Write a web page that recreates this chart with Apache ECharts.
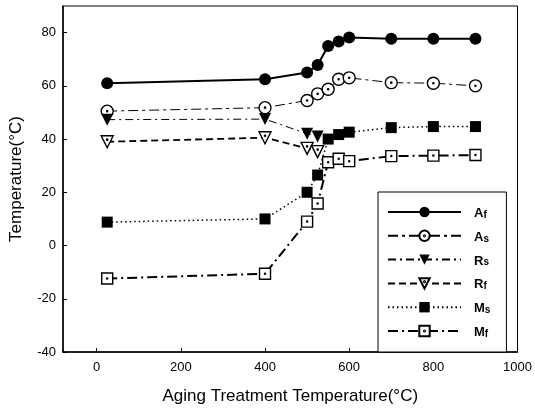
<!DOCTYPE html>
<html>
<head>
<meta charset="utf-8">
<script src="https://cdn.jsdelivr.net/npm/echarts@6/dist/echarts.min.js"></script>
<style>html,body{margin:0;padding:0;background:#fff}#c{width:535px;height:414px}</style>
</head>
<body>
<div id="c"></div>
<script>
// Data
var temps = [25, 400, 500, 525, 550, 575, 600, 700, 800, 900];
var rTemps = [25, 400, 500, 525];
var afVals = [61, 62.5, 65, 67.8, 75, 76.7, 78.2, 77.7, 77.7, 77.7];
var asVals = [50.5, 51.8, 54.5, 57, 58.7, 62.5, 63, 61.2, 61, 60];
var rsVals = [47.3, 47.5, 42, 41];
var rfVals = [39, 40.5, 36.5, 35.3];
var msVals = [8.8, 10, 20, 26.5, 40, 41.7, 42.6, 44.3, 44.7, 44.7];
var mfVals = [-12.4, -10.6, 9, 15.8, 31.3, 32.6, 31.7, 33.6, 33.8, 34];
var xTicks = [0, 200, 400, 600, 800, 1000];
var yTicks = [-40, -20, 0, 20, 40, 60, 80];
var names = ['Af', 'As', 'Rs', 'Rf', 'Ms', 'Mf'];

function pairs(xs, ys) { return xs.map(function (x, i) { return [x, ys[i]]; }); }

var dotCircle = 'path://M0 -10A10 10 0 1 1 0 10A10 10 0 1 1 0 -10ZM0 -1A1 1 0 1 1 0 1A1 1 0 1 1 0 -1Z';
var dotSquare = 'path://M-10 -10L10 -10L10 10L-10 10ZM0 -1A1 1 0 1 1 0 1A1 1 0 1 1 0 -1Z';
var downTri = 'path://M-10 -9L10 -9L0 9Z';
var dotDownTri = 'path://M-10 -9L10 -9L0 9ZM0 -4A1 1 0 1 1 0 -2A1 1 0 1 1 0 -4Z';

var chart = echarts.init(document.getElementById('c'), null, { renderer: 'canvas' });
var font = 'Liberation Sans, Arial, sans-serif';

function mk(name, data, symbol, size, filled, lineType, lineWidth) {
  return {
    name: name, type: 'line', data: data, symbol: symbol, symbolSize: size,
    showSymbol: true,
    lineStyle: { color: '#000', width: lineWidth, type: lineType },
    itemStyle: { color: filled ? '#000' : '#fff', borderColor: '#000', borderWidth: filled ? 0 : 1.4 },
    emphasis: { disabled: true },
    animation: false, z: 3
  };
}

chart.setOption({
  animation: false,
  backgroundColor: '#fff',
  textStyle: { fontFamily: font },
  grid: { left: 62, right: 15, top: 6, bottom: 62, show: true, borderColor: '#000', borderWidth: 1, backgroundColor: 'transparent' },
  xAxis: {
    type: 'value', min: -80, max: 1000,
    name: 'Aging Treatment Temperature(°C)', nameLocation: 'middle', nameGap: 36,
    nameTextStyle: { fontSize: 17, color: '#000', fontFamily: font },
    axisLine: { onZero: false, lineStyle: { color: '#000', width: 1.5 } },
    axisTick: { inside: true, length: 4, customValues: xTicks, lineStyle: { color: '#000' } },
    axisLabel: { customValues: xTicks, fontSize: 13, color: '#000', margin: 9, fontFamily: font,
      formatter: function (v) { return String(v); } },
    splitLine: { show: false }
  },
  yAxis: {
    type: 'value', min: -40, max: 90,
    name: 'Temperature(°C)', nameLocation: 'middle', nameGap: 38,
    nameTextStyle: { fontSize: 17, color: '#000', fontFamily: font },
    axisLine: { onZero: false, lineStyle: { color: '#000', width: 1.5 } },
    axisTick: { inside: true, length: 4, customValues: yTicks, lineStyle: { color: '#000' } },
    axisLabel: { customValues: yTicks, fontSize: 13, color: '#000', margin: 7, fontFamily: font,
      formatter: function (v) { return String(v); } },
    splitLine: { show: false }
  },
  legend: {
    data: names, orient: 'vertical', left: 378, top: 192,
    backgroundColor: '#fff', borderColor: '#000', borderWidth: 1,
    padding: [13, 16, 13, 9], itemWidth: 73, itemHeight: 13, itemGap: 8.8,
    selectedMode: false,
    formatter: function (n) { return '{b|' + n.charAt(0) + '}{s|' + n.charAt(1) + '}'; },
    textStyle: {
      padding: [0, 0, 0, 8], color: '#000',
      rich: {
        b: { fontSize: 13, fontWeight: 'bold', fontFamily: font, color: '#000', verticalAlign: 'bottom', lineHeight: 16 },
        s: { fontSize: 10, fontWeight: 'bold', fontFamily: font, color: '#000', verticalAlign: 'bottom', lineHeight: 16, padding: [5, 0, 0, 0] }
      }
    }
  },
  series: [
    mk('Af', pairs(temps, afVals), 'circle', 12, true, 'solid', 2),
    mk('As', pairs(temps, asVals), dotCircle, 12, false, [10, 4, 3, 4], 1),
    mk('Rs', pairs(rTemps, rsVals), downTri, 12, true, [8, 4, 2, 4], 1),
    mk('Rf', pairs(rTemps, rfVals), dotDownTri, 12, false, [7, 4], 1.8),
    mk('Ms', pairs(temps, msVals), 'rect', 11, true, [1.5, 3], 1.5),
    mk('Mf', pairs(temps, mfVals), dotSquare, 11, false, [10, 4, 2, 4], 2)
  ]
});
</script>
</body>
</html>
